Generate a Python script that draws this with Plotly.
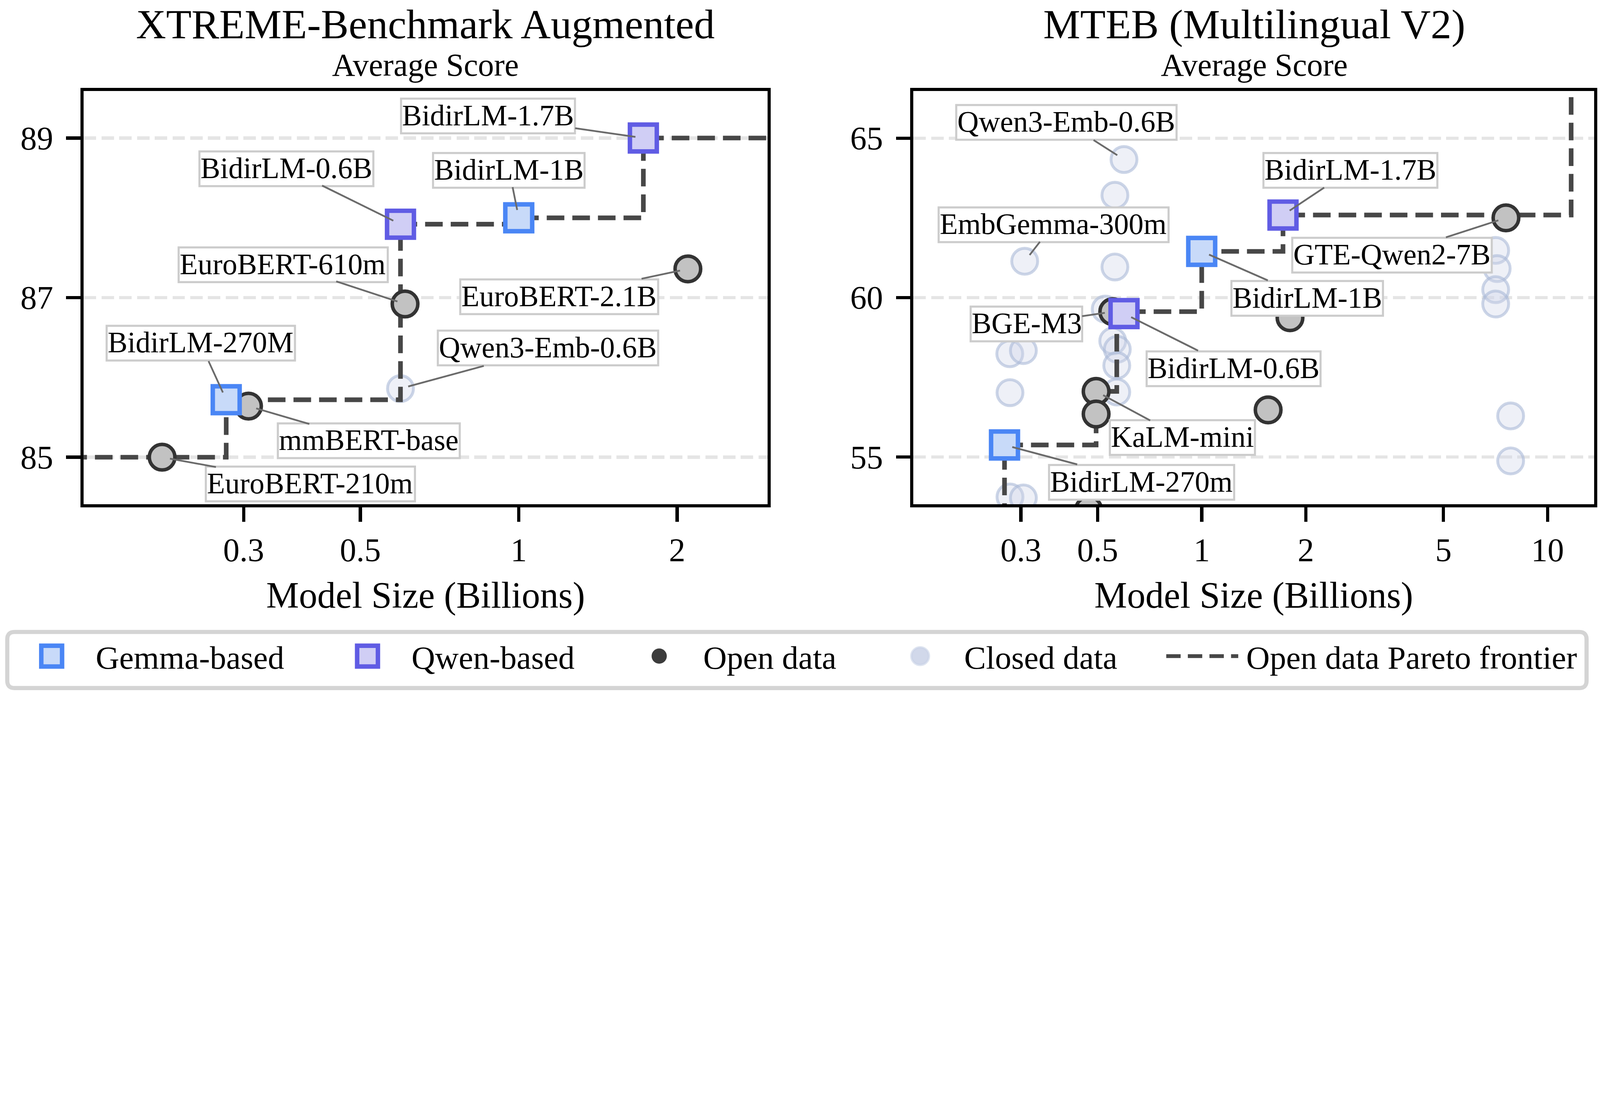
import math
import plotly.graph_objects as go

# ---- XTREME-Benchmark Augmented (left) ----
xt_gemma_size = [0.278, 1.0]
xt_gemma_score = [85.72, 88.0]
xt_qwen_size = [0.596, 1.725]
xt_qwen_score = [87.92, 89.0]
xt_open_size = [0.21, 0.3065, 0.608, 2.096]
xt_open_score = [85.0, 85.64, 86.92, 87.36]
xt_closed_size = [0.596]
xt_closed_score = [85.86]
xt_front_size = [0.1, 0.278, 0.596, 1.0, 1.725, 3.5]
xt_front_score = [85.0, 85.72, 87.92, 88.0, 89.0, 89.0]

xt_labels = ["BidirLM-1.7B", "BidirLM-0.6B", "BidirLM-1B", "EuroBERT-610m", "EuroBERT-2.1B",
             "BidirLM-270M", "Qwen3-Emb-0.6B", "mmBERT-base", "EuroBERT-210m"]
xt_label_size = [1.725, 0.596, 1.0, 0.608, 2.096, 0.278, 0.596, 0.3065, 0.21]
xt_label_score = [89.0, 87.92, 88.0, 86.92, 87.36, 85.72, 85.86, 85.64, 85.0]

# ---- MTEB (Multilingual V2) (right) ----
mt_gemma_size = [0.269, 1.0]
mt_gemma_score = [55.38, 61.45]
mt_qwen_size = [0.596, 1.718]
mt_qwen_score = [59.5, 62.59]
mt_open_size = [0.553, 0.495, 0.495, 0.471, 1.556, 1.80, 7.58]
mt_open_score = [59.56, 57.06, 56.35, 53.35, 56.48, 59.37, 62.50]
mt_closed_size = [0.596, 0.561, 0.3077, 0.561, 0.526, 0.553, 0.570, 0.568, 0.568, 0.2786,
                  0.305, 0.279, 0.279, 0.305, 7.08, 7.15, 7.08, 7.08, 7.82, 7.82]
mt_closed_score = [64.33, 63.21, 61.14, 60.96, 59.64, 58.64, 58.38, 57.87, 57.04, 58.24,
                   58.34, 57.02, 53.75, 53.72, 61.48, 60.91, 60.25, 59.8, 56.29, 54.88]
mt_front_size = [0.269, 0.495, 0.568, 1.0, 1.718, 11.7, 11.7]
mt_front_score = [53.0, 55.38, 57.06, 59.56, 61.45, 62.59, 67.0]

mt_labels = ["Qwen3-Emb-0.6B", "BidirLM-1.7B", "EmbGemma-300m", "GTE-Qwen2-7B", "BidirLM-1B",
             "BGE-M3", "BidirLM-0.6B", "KaLM-mini", "BidirLM-270m"]
mt_label_size = [0.596, 1.718, 0.3077, 7.58, 1.0, 0.553, 0.596, 0.495, 0.269]
mt_label_score = [64.33, 62.59, 61.14, 62.50, 61.45, 59.56, 59.5, 57.06, 55.38]

legend_names = ["Gemma-based", "Qwen-based", "Open data", "Closed data", "Open data Pareto frontier"]

# label box offsets (px) from the point
xt_off_x = [-97, -71, -6, -76, -80, -16, 92, 75, 93]
xt_off_y = [-14, -35, -30, -25, 17, -35, -25, 22, 17]
mt_off_x = [-36, 42, 18, -71, 66, -54, 68, 54, 86]
mt_off_y = [-23, -28, -23, 23, 29, 8, 34, 29, 23]

# where each legend entry's text starts (px of a 1000 px wide figure)
legend_text_start = [59.8, 257.2, 439.5, 602.6, 778.9]

W, H = 1000, 434.46
FONT = "Liberation Serif"
GEMMA_EDGE, GEMMA_FILL = "#4a86f5", "#c8daf9"
QWEN_EDGE, QWEN_FILL = "#605ce4", "#d0cef5"
OPEN_EDGE, OPEN_FILL = "#333333", "#c2c2c2"
CLOSED_EDGE, CLOSED_FILL = "rgba(170,185,215,0.6)", "rgba(205,213,232,0.35)"
FRONT = "#474747"

fig = go.Figure()


def add_panel(xa, ya, gx, gy, qx, qy, ox, oy, cx, cy, fx, fy, shape):
    fig.add_trace(go.Scatter(x=cx, y=cy, mode="markers", xaxis=xa, yaxis=ya, showlegend=False,
                             marker=dict(symbol="circle", size=16.2, color=CLOSED_FILL,
                                         line=dict(color=CLOSED_EDGE, width=1.8))))
    fig.add_trace(go.Scatter(x=fx, y=fy, mode="lines", xaxis=xa, yaxis=ya, showlegend=False,
                             line=dict(color=FRONT, width=2.9, dash="11px,5px", shape=shape)))
    fig.add_trace(go.Scatter(x=ox, y=oy, mode="markers", xaxis=xa, yaxis=ya, showlegend=False,
                             marker=dict(symbol="circle", size=16, color=OPEN_FILL,
                                         line=dict(color=OPEN_EDGE, width=2.2))))
    fig.add_trace(go.Scatter(x=gx, y=gy, mode="markers", xaxis=xa, yaxis=ya, showlegend=False,
                             marker=dict(symbol="square", size=16.8, color=GEMMA_FILL,
                                         line=dict(color=GEMMA_EDGE, width=2.8))))
    fig.add_trace(go.Scatter(x=qx, y=qy, mode="markers", xaxis=xa, yaxis=ya, showlegend=False,
                             marker=dict(symbol="square", size=16.8, color=QWEN_FILL,
                                         line=dict(color=QWEN_EDGE, width=2.8))))


add_panel("x", "y", xt_gemma_size, xt_gemma_score, xt_qwen_size, xt_qwen_score,
          xt_open_size, xt_open_score, xt_closed_size, xt_closed_score,
          xt_front_size, xt_front_score, "hv")
add_panel("x2", "y2", mt_gemma_size, mt_gemma_score, mt_qwen_size, mt_qwen_score,
          mt_open_size, mt_open_score, mt_closed_size, mt_closed_score,
          mt_front_size, mt_front_score, "vh")

# legend entries, one small legend each so they can sit where the reference has them
legend_styles = [
    dict(mode="markers", marker=dict(symbol="square", size=13, color=GEMMA_FILL,
                                     line=dict(color=GEMMA_EDGE, width=2.8))),
    dict(mode="markers", marker=dict(symbol="square", size=13, color=QWEN_FILL,
                                     line=dict(color=QWEN_EDGE, width=2.8))),
    dict(mode="markers", marker=dict(symbol="circle", size=9.5, color="#3c3c3c",
                                     line=dict(color="#3c3c3c", width=0))),
    dict(mode="markers", marker=dict(symbol="circle", size=11, color="rgba(190,200,225,0.7)",
                                     line=dict(color="rgba(200,210,230,0.6)", width=1.5))),
    dict(mode="lines", line=dict(color=FRONT, width=2.4, dash="9px,4.5px")),
]
legend_layout = {}
for i, name in enumerate(legend_names):
    key = "legend" if i == 0 else "legend%d" % (i + 1)
    fig.add_trace(go.Scatter(x=[None], y=[None], name=name, legend=key, **legend_styles[i]))
    legend_layout[key] = dict(x=(legend_text_start[i] - 55) / W, xanchor="left",
                              y=0.0545, yanchor="middle", orientation="h",
                              bgcolor="rgba(0,0,0,0)", borderwidth=0, itemwidth=45,
                              font=dict(family=FONT, size=20.4, color="black"))

annotations = []
for i, t in enumerate(xt_labels):
    annotations.append(dict(x=math.log10(xt_label_size[i]), y=xt_label_score[i], xref="x", yref="y",
                            text=t, ax=xt_off_x[i], ay=xt_off_y[i]))
for i, t in enumerate(mt_labels):
    annotations.append(dict(x=math.log10(mt_label_size[i]), y=mt_label_score[i], xref="x2", yref="y2",
                            text=t, ax=mt_off_x[i], ay=mt_off_y[i]))
for a in annotations:
    a.update(showarrow=True, arrowhead=0, arrowwidth=1.1, arrowcolor="#6b6b6b", standoff=5,
             bgcolor="white", bordercolor="#cccccc", borderwidth=1.3, borderpad=0,
             font=dict(family=FONT, size=18.5, color="black"))

# panel titles: big title line plus the smaller "Average Score" line
titles = [("XTREME-Benchmark Augmented", 0.266), ("MTEB (Multilingual V2)", 0.7836)]
for t, xc in titles:
    annotations.append(dict(
        x=xc, y=1.0, xref="paper", yref="paper", showarrow=False,
        xanchor="center", yanchor="top", borderpad=0,
        text="<span style='font-size:26px'>%s</span><br>"
             "<span style='font-size:20px'>Average Score</span>" % t,
        font=dict(family=FONT, size=18, color="black")))

# rounded legend frame
fx0, fx1, fy0, fy1 = 0.00454, 0.9916, 0.0090, 0.0898
rx, ry = 4.6 / W, 4.6 / H
frame = ("M{a},{t} L{b},{t} Q{r},{t} {r},{c} L{r},{d} Q{r},{bo} {b},{bo} L{a},{bo} "
         "Q{l},{bo} {l},{d} L{l},{c} Q{l},{t} {a},{t} Z").format(
    a=fx0 + rx, b=fx1 - rx, l=fx0, r=fx1, t=fy1, bo=fy0, c=fy1 - ry, d=fy0 + ry)

axis_common = dict(showline=True, linecolor="black", linewidth=1.9, mirror=True,
                   ticks="outside", ticklen=9, tickwidth=2, tickcolor="black",
                   tickfont=dict(family=FONT, size=20.5, color="black"), zeroline=False)
yaxis_common = dict(axis_common, showgrid=True, gridcolor="#e5e5e5", gridwidth=1.5,
                    griddash="7.8px,3.3px", ticklabelstandoff=4)
xaxis_common = dict(axis_common, type="log", showgrid=False, ticklabelstandoff=0,
                    title=dict(text="Model Size (Billions)", standoff=10,
                               font=dict(family=FONT, size=23, color="black")))

fig.update_layout(
    width=W, height=H,
    margin=dict(l=0, r=0, t=0, b=0),
    paper_bgcolor="white", plot_bgcolor="white",
    font=dict(family=FONT, color="black"),
    xaxis=dict(xaxis_common, domain=[0.0523, 0.4797], anchor="y",
               range=[math.log10(0.149), math.log10(2.97)],
               tickvals=[0.3, 0.5, 1, 2], ticktext=["0.3", "0.5", "1", "2"]),
    yaxis=dict(yaxis_common, domain=[0.2737, 0.869], anchor="x", range=[84.41, 89.59],
               tickvals=[85, 87, 89]),
    xaxis2=dict(xaxis_common, domain=[0.5709, 0.9963], anchor="y2",
                range=[math.log10(0.1467), math.log10(13.63)],
                tickvals=[0.3, 0.5, 1, 2, 5, 10], ticktext=["0.3", "0.5", "1", "2", "5", "10"]),
    yaxis2=dict(yaxis_common, domain=[0.2737, 0.869], anchor="x2", range=[53.52, 66.48],
                tickvals=[55, 60, 65]),
    shapes=[dict(type="path", xref="paper", yref="paper", path=frame, fillcolor="white",
                 line=dict(color="#d4d4d4", width=2.6), layer="below")],
    annotations=annotations,
    **legend_layout,
)

# the figure is laid out at 1000 px wide and scaled up to fit the window
scale_js = """
document.documentElement.style.margin='0';
document.body.style.margin='0';
document.body.style.overflow='hidden';
var gd = document.getElementById('{plot_id}');
gd.style.zoom = Math.min(window.innerWidth / %s, window.innerHeight / %s);
""" % (W, H)

fig.write_html("out.html", config={"displayModeBar": False}, post_script=scale_js)
